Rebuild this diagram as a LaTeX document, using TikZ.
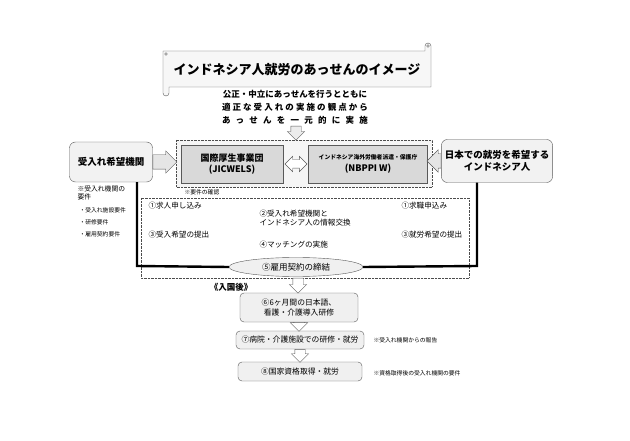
\documentclass[tikz,border=0pt]{standalone}
\usepackage{fontspec}
\setmainfont{Noto Sans CJK JP}
\usetikzlibrary{shapes.geometric,shapes.arrows}

\tikzset{
  >={stealth},
  kikan/.style={draw=gray!70!black, fill=gray!30, minimum width=102, minimum height=38,
    align=center, font=\bfseries\fontsize{9}{11.5}\selectfont},
  kibou/.style={draw=gray!70!black, fill=gray!10, rounded corners=6, align=center,
    font=\bfseries\fontsize{9.5}{12}\selectfont},
  flowbox/.style={draw=gray!70!black, fill=gray!12, rounded corners=4, align=center,
    font=\fontsize{7.8}{10}\selectfont},
  barrow/.style={single arrow, draw=gray!70!black, fill=gray!20, inner xsep=0, inner ysep=7,
    single arrow head extend=4, anchor=tail},
  darrow/.style={single arrow, draw=gray!70!black, fill=white, inner xsep=5, inner ysep=0,
    single arrow head extend=3.5, anchor=tail, shape border rotate=270},
  heavy/.style={line width=2.4},
  note/.style={font=\fontsize{5.8}{8}\selectfont, anchor=west, align=left},
  item/.style={font=\fontsize{7.6}{8.5}\selectfont, anchor=west, align=left},
}

\begin{document}
\begin{tikzpicture}[x=1pt, y=-1pt]
	\useasboundingbox[fill=white] (0,0) rectangle (630,441);

	% scroll
	\draw[gray!70!black, fill=gray!6] (163,51) -- (425,51) -- (425,46)
			arc[start angle=180, end angle=360, radius=3] -- (431,87) -- (169,87) -- (169,93)
			arc[start angle=0, end angle=180, radius=3] -- cycle;
	\draw[gray!70!black] (428,46) circle (1.4) (166,54) circle (1.4);
	\node[font=\bfseries\fontsize{13}{15}\selectfont] (title) at (297,70) {インドネシア人就労のあっせんのイメージ};
	\node[font=\bfseries\fontsize{8.5}{13}\selectfont, align=center] (shushi) at (295,107)
			{\makebox[146pt]{公正・中立にあっせんを行うとともに}\\
			 \makebox[146pt]{適\hfill 正\hfill な\hfill 受\hfill 入\hfill れ\hfill の\hfill 実\hfill 施\hfill の\hfill 観\hfill 点\hfill か\hfill ら}\\
			 \makebox[146pt]{あ\hfill っ\hfill せ\hfill ん\hfill を\hfill 一\hfill 元\hfill 的\hfill に\hfill 実\hfill 施}};

	% agencies
	\draw[densely dotted, gray!60!black, fill=gray!8] (176,140) rectangle (432,187);
	\node[kikan] (jicwels) at (232,164) {国際厚生事業団\\(JICWELS)};
	\node[kikan, minimum width=119] (nbppi) at (368,164)
			{{\fontsize{5.8}{8}\selectfont インドネシア海外労働者派遣・保護庁}\\(NBPPI W)};
	\node[double arrow, draw=gray!70!black, fill=white, inner xsep=0, inner ysep=4,
			double arrow head extend=3.5, minimum height=22] (sogo) at (296,164) {};
	\node[kibou, minimum width=83, minimum height=40] (ukeire) at (111,162) {受入れ希望機関};
	\node[kibou, minimum width=104, minimum height=43] (kyushoku) at (497,161)
			{日本での就労を希望する\\インドネシア人};
	\node[barrow, minimum height=24] (yaL) at (ukeire.east) {};
	\node[barrow, minimum height=14, shape border rotate=180] (yaR) at (kyushoku.west) {};
	\node[darrow, minimum height=14, fill=gray!15] (yaT) at (296,126) {};
	\node[note] (kakunin) at (181,192) {※要件の確認};
	\node[note, anchor=north west] (yoken) at (74,182)
			{\fontsize{6.8}{10.5}\selectfont ※受入れ機関の\\\fontsize{6.8}{10.5}\selectfont 要件};
	\node[note] (y1) at (76,210) {・受入れ施設要件};
	\node[note] (y2) at (76,222) {・研修要件};
	\node[note] (y3) at (76,234) {・雇用契約要件};

	% matching
	\draw[densely dotted, gray!60!black] (141,198) rectangle (469,278);
	\coordinate (lb) at (137,266);
	\coordinate (rb) at (477,266);
	\node[item] (i1) at (145,206) {①求人申し込み};
	\node[item] (i2) at (256,218) {②受入れ希望機関と\\インドネシア人の情報交換};
	\node[item] (i3) at (145,235) {③受入希望の提出};
	\node[item] (i4) at (256,245) {④マッチングの実施};
	\node[item] (j1) at (398,206) {①求職申込み};
	\node[item] (j3) at (398,235) {③就労希望の提出};
	\node[ellipse, draw=gray!70!black, fill=gray!12, minimum width=134, minimum height=19,
			inner sep=0, font=\fontsize{8.5}{10}\selectfont] (keiyaku) at (296,267) {⑤雇用契約の締結};
	\draw[heavy] (lb |- ukeire.south) -- (lb) -- (keiyaku.west);
	\draw[heavy] (rb |- kyushoku.south) -- (rb) -- (keiyaku.east);

	% after entry
	\node[font=\bfseries\fontsize{8.5}{10}\selectfont] (nyukoku) at (231,287) {《入国後》};
	\node[flowbox, minimum width=118, minimum height=29] (kenshu) at (299,307.5)
			{⑥6ヶ月間の日本語、\\看護・介護導入研修};
	\node[flowbox, minimum width=128, minimum height=18] (shuro) at (300,340)
			{⑦病院・介護施設での研修・就労};
	\node[flowbox, minimum width=124, minimum height=19] (shikaku) at (300,371.5)
			{⑧国家資格取得・就労};
	\node[darrow, minimum height=15] (ya5) at (298,278) {};
	\node[darrow, minimum height=9] (ya6) at (kenshu.south) {};
	\node[darrow, minimum height=13] (ya7) at (shuro.south) {};
	\node[note] (hokoku) at (370,340) {※受入れ機関からの報告};
	\node[note] (shikakuyoken) at (370,373) {※資格取得後の受入れ機関の要件};
\end{tikzpicture}
\end{document}
